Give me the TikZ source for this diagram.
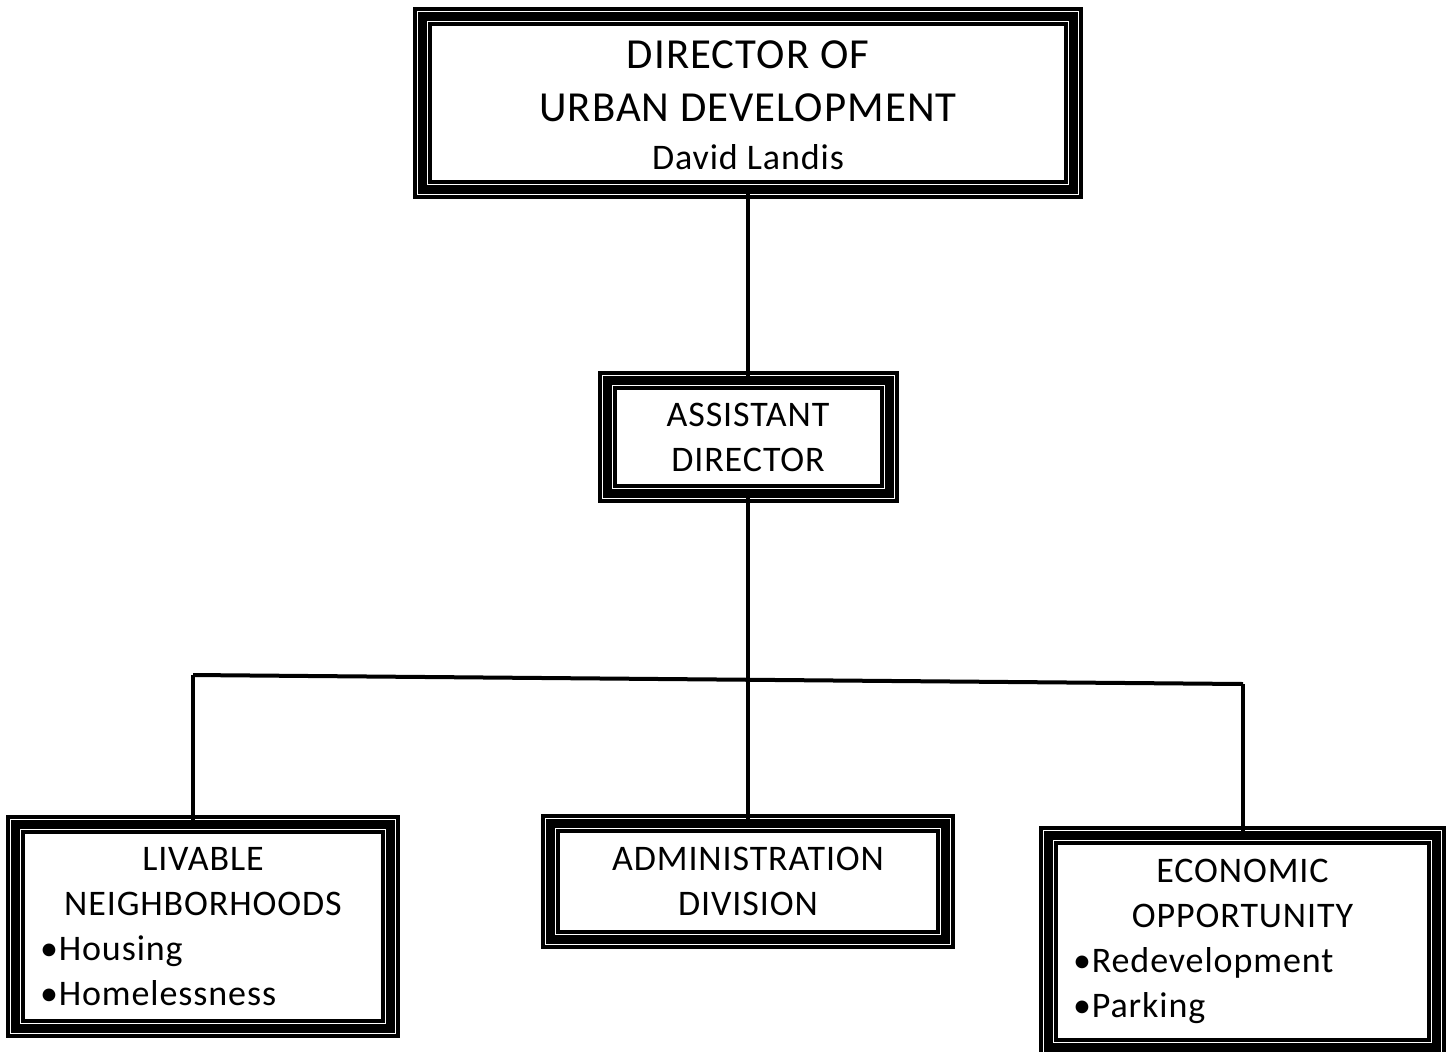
\documentclass[tikz,border=0pt]{standalone}
\usepackage{fontspec}
\setmainfont{Carlito}[LetterSpace=2.5]

\begin{document}
\begin{tikzpicture}[x=0.5pt,y=-0.5pt,
    wire/.style={line width=2pt},
    org box/.style={rectangle,draw,line width=4.5pt,inner sep=0pt,
        preaction={fill=white,draw,line width=9.5pt},
        preaction={draw=white,line width=5.5pt},
        font=\fontsize{18pt}{22.5pt}\selectfont,align=center},
    list box/.style={org box,align=none,inner xsep=12.25pt}]
            \useasboundingbox (0,0) rectangle (1452,1051);
            \clip (0,0) rectangle (1452,1051);

            \node[org box, minimum width=325.5pt, minimum height=86.5pt, font=\fontsize{21.4pt}{26.5pt}\selectfont] (dir) at (748,103) {\rule{0pt}{16.5pt}DIRECTOR OF\\URBAN DEVELOPMENT\\[-2.5pt]{\fontsize{18pt}{22.5pt}\selectfont David Landis}};
            \node[org box, minimum width=141pt, minimum height=56.5pt] (asst) at (748,437) {ASSISTANT\\DIRECTOR};
            \node[org box, minimum width=197.25pt, minimum height=58pt] (admin) at (748,881.5) {ADMINISTRATION\\DIVISION};
            \node[list box, minimum width=187.5pt, minimum height=102pt, text width=163pt] (liv) at (203,926.5)
                {\centering LIVABLE\\NEIGHBORHOODS\par\raggedright •Housing\\•Homelessness\par};
            \node[list box, minimum width=194pt, minimum height=106pt, text width=169.5pt] (eco) at (1242.5,941.5)
                {\centering ECONOMIC\\OPPORTUNITY\par\raggedright •Redevelopment\\•Parking\par};

            \coordinate (lft) at (193,675);
            \coordinate (rgt) at (1243,684);

            \path[wire]
                (dir) edge (asst)
                (asst) edge (admin)
                (lft) edge (rgt)
                (lft) edge (lft |- liv.north)
                (rgt) edge (rgt |- eco.north)
                ;
        \end{tikzpicture}
\end{document}
